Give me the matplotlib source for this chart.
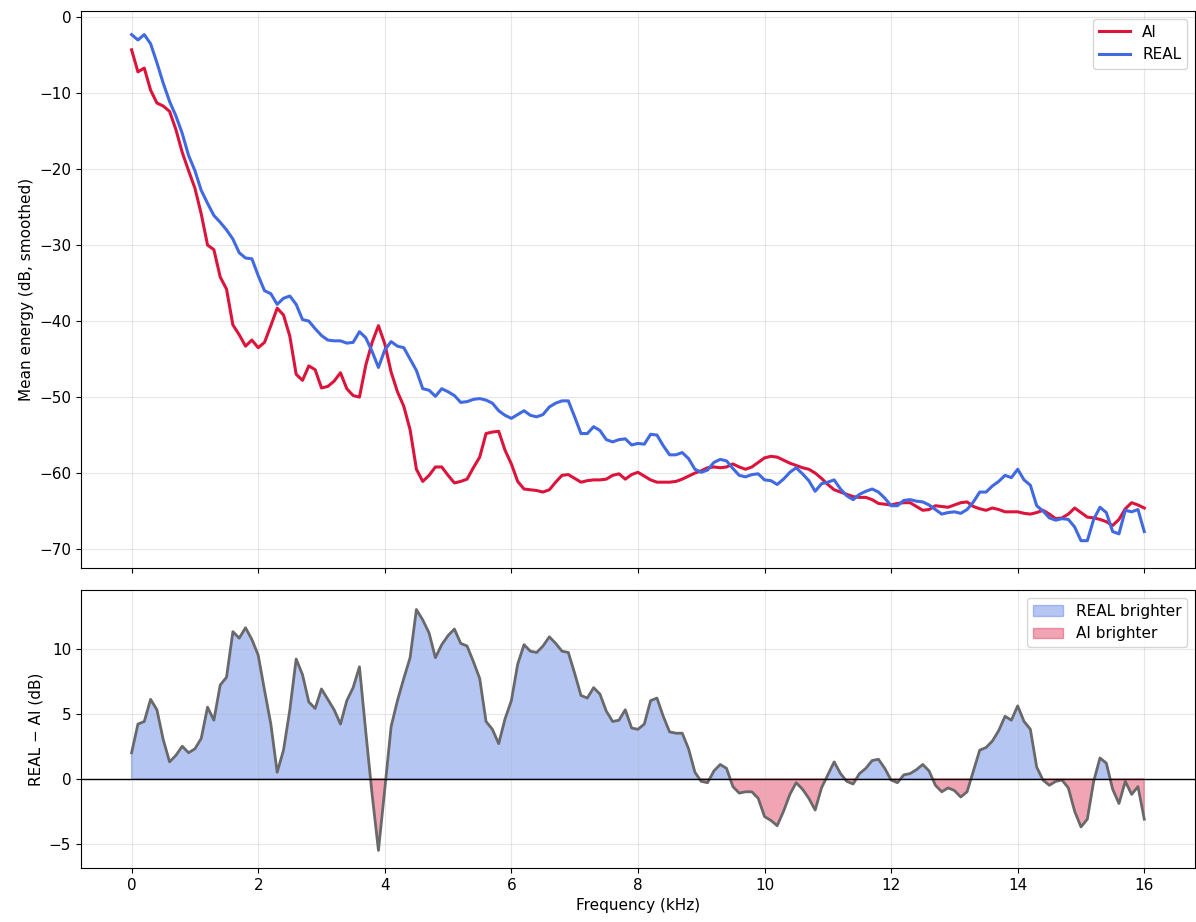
import numpy as np
import matplotlib
matplotlib.use("Agg")
import matplotlib.pyplot as plt
from matplotlib.ticker import MultipleLocator

plt.rcParams["font.size"] = 11

# frequency grid (kHz), 0.1 kHz steps
freq_khz = np.round(np.arange(0, 161) * 0.1, 1)

ai_db = [
    -4.3, -7.2, -6.7, -9.6, -11.3, -11.7, -12.4, -14.8, -17.8, -20.2,
    -22.5, -25.9, -30.0, -30.6, -34.2, -35.8, -40.5, -41.8, -43.3, -42.5,
    -43.5, -42.8, -40.6, -38.3, -39.2, -42.0, -47.0, -47.8, -45.9, -46.4,
    -48.8, -48.6, -47.9, -46.8, -48.9, -49.8, -50.0, -45.8, -42.8, -40.6,
    -43.0, -46.7, -49.3, -51.2, -54.3, -59.5, -61.1, -60.3, -59.2, -59.2,
    -60.3, -61.3, -61.1, -60.8, -59.3, -57.9, -54.8, -54.6, -54.5, -57.0,
    -58.8, -61.1, -62.1, -62.2, -62.3, -62.5, -62.2, -61.2, -60.3, -60.2,
    -60.7, -61.2, -61.0, -60.9, -60.9, -60.8, -60.3, -60.1, -60.8, -60.2,
    -59.9, -60.4, -60.9, -61.2, -61.2, -61.2, -61.1, -60.8, -60.4, -60.0,
    -59.7, -59.3, -59.2, -59.3, -59.2, -58.8, -59.2, -59.5, -59.2, -58.6,
    -58.0, -57.8, -57.9, -58.3, -58.7, -59.0, -59.3, -59.5, -60.0, -60.7,
    -61.5, -62.2, -62.5, -62.8, -63.1, -63.2, -63.2, -63.5, -64.0, -64.1,
    -64.2, -64.0, -63.9, -63.9, -64.4, -64.9, -64.8, -64.3, -64.4, -64.5,
    -64.2, -63.9, -63.8, -64.4, -64.7, -64.9, -64.6, -64.8, -65.1, -65.1,
    -65.1, -65.3, -65.4, -65.2, -64.9, -65.4, -66.0, -65.9, -65.4, -64.6,
    -65.2, -65.8, -65.9, -66.1, -66.4, -66.9, -66.1, -64.7, -63.9, -64.2,
    -64.6,
]

real_db = [
    -2.3, -3.0, -2.3, -3.5, -6.0, -8.7, -11.1, -13.0, -15.3, -18.2,
    -20.2, -22.8, -24.5, -26.1, -27.0, -28.0, -29.2, -31.0, -31.7, -31.8,
    -34.0, -36.0, -36.4, -37.8, -37.0, -36.7, -37.8, -39.8, -40.0, -41.0,
    -41.9, -42.5, -42.6, -42.6, -42.9, -42.8, -41.4, -42.2, -44.0, -46.1,
    -43.8, -42.7, -43.3, -43.5, -45.0, -46.5, -48.9, -49.1, -49.9, -48.9,
    -49.3, -49.8, -50.7, -50.6, -50.3, -50.2, -50.4, -50.8, -51.8, -52.4,
    -52.8, -52.3, -51.8, -52.4, -52.6, -52.3, -51.3, -50.8, -50.5, -50.5,
    -52.6, -54.8, -54.8, -53.9, -54.4, -55.6, -55.9, -55.6, -55.5, -56.3,
    -56.1, -56.2, -54.9, -55.0, -56.4, -57.6, -57.6, -57.3, -58.1, -59.5,
    -59.9, -59.6, -58.6, -58.2, -58.4, -59.4, -60.3, -60.5, -60.2, -60.1,
    -60.9, -61.0, -61.5, -60.8, -59.9, -59.3, -60.1, -61.0, -62.4, -61.4,
    -61.2, -60.9, -62.1, -63.0, -63.5, -62.8, -62.4, -62.1, -62.5, -63.3,
    -64.3, -64.3, -63.6, -63.5, -63.7, -63.8, -64.2, -64.8, -65.4, -65.2,
    -65.1, -65.3, -64.8, -63.8, -62.5, -62.5, -61.7, -61.1, -60.3, -60.6,
    -59.5, -60.9, -61.6, -64.3, -65.0, -65.9, -66.2, -66.0, -66.1, -67.1,
    -68.9, -68.9, -66.1, -64.5, -65.2, -67.7, -68.0, -64.9, -65.1, -64.8,
    -67.7,
]

ai = np.array(ai_db)
real = np.array(real_db)
diff = real - ai

fig = plt.figure(figsize=(11.96, 9.22), dpi=100)
ax1 = fig.add_axes([0.0677, 0.3839, 0.9314, 0.6041])
ax2 = fig.add_axes([0.0677, 0.0586, 0.9314, 0.3015], sharex=ax1)

ax1.plot(freq_khz, ai, color="crimson", lw=2.2, label="AI")
ax1.plot(freq_khz, real, color="royalblue", lw=2.2, label="REAL")
ax1.set_ylabel("Mean energy (dB, smoothed)")
ax1.set_ylim(-72.5, 0.8)
ax1.grid(True, alpha=0.3)
ax1.legend(loc="upper right")
ax1.tick_params(labelbottom=False)

ax2.fill_between(freq_khz, diff, 0, where=diff >= 0, interpolate=True,
                 color="royalblue", alpha=0.38, label="REAL brighter")
ax2.fill_between(freq_khz, diff, 0, where=diff < 0, interpolate=True,
                 color="crimson", alpha=0.38, label="AI brighter")
ax2.plot(freq_khz, diff, color="dimgray", lw=2)
ax2.axhline(0, color="black", lw=1)
ax2.set_ylabel("REAL \u2212 AI (dB)")
ax2.set_xlabel("Frequency (kHz)")
ax2.set_ylim(-6.85, 14.5)
ax2.yaxis.set_major_locator(MultipleLocator(5))
ax2.set_xlim(-0.8, 16.8)
ax2.grid(True, alpha=0.3)
ax2.legend(loc="upper right")

fig.savefig("out.png", dpi=100)
